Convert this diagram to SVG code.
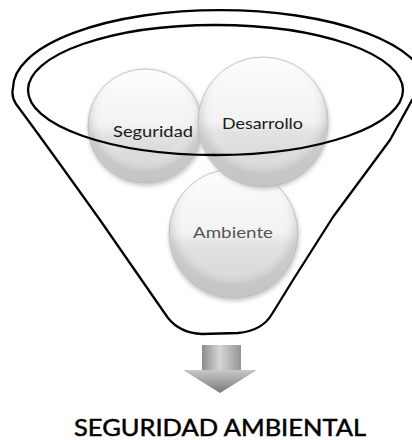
<svg xmlns="http://www.w3.org/2000/svg" width="412" height="440" viewBox="0 0 412 440">
  <style>
    .ball { fill: url(#ballGrad); stroke: #c4c4c4; stroke-width: 1; }
    .gloss { fill: url(#glossGrad); }
    .shadow { fill: #9a9a9a; opacity: 0.55; filter: url(#blur); }
    .lbl { font-family: Lato, "Open Sans", "Liberation Sans", sans-serif; font-size: 16px; text-anchor: middle; }
    .line { fill: none; stroke: #000; stroke-width: 2.3; stroke-linejoin: round; }
    .title { font-family: Lato, "Open Sans", "Liberation Sans", sans-serif; font-size: 24px; fill: #000; stroke: #000; stroke-width: 0.5; }
  </style>
  <defs>
    <linearGradient id="ballGrad" x1="0" y1="0" x2="0" y2="1">
      <stop offset="0" stop-color="#fdfdfd"/>
      <stop offset="0.5" stop-color="#f2f2f2"/>
      <stop offset="0.58" stop-color="#e2e2e2"/>
      <stop offset="1" stop-color="#d0d0d0"/>
    </linearGradient>
    <radialGradient id="glossGrad" cx="0.5" cy="0.4" r="0.5">
      <stop offset="0.75" stop-color="#ffffff" stop-opacity="0"/>
      <stop offset="1" stop-color="#b8b8b8" stop-opacity="0.5"/>
    </radialGradient>
    <linearGradient id="shaftGrad" x1="0" y1="0" x2="1" y2="0">
      <stop offset="0" stop-color="#8c8c8c"/>
      <stop offset="0.45" stop-color="#d6d6d6"/>
      <stop offset="1" stop-color="#959595"/>
    </linearGradient>
    <linearGradient id="headGrad" x1="0" y1="0" x2="0" y2="1">
      <stop offset="0" stop-color="#c8c8c8"/>
      <stop offset="1" stop-color="#7a7a7a"/>
    </linearGradient>
    <filter id="blur" x="-20%" y="-20%" width="140%" height="140%">
      <feGaussianBlur stdDeviation="2"/>
    </filter>
  </defs>

  <g id="node-ambiente">
    <circle class="shadow" cx="234" cy="236" r="65"/>
    <circle class="ball" cx="233.5" cy="233.5" r="64.5"/>
    <circle class="gloss" cx="233.5" cy="233.5" r="64.5"/>
    <text class="lbl" x="233" y="238" fill="#555" textLength="80" lengthAdjust="spacingAndGlyphs">Ambiente</text>
  </g>

  <g id="node-seguridad">
    <circle class="shadow" cx="146" cy="128" r="58"/>
    <circle class="ball" cx="145" cy="126" r="57"/>
    <circle class="gloss" cx="145" cy="126" r="57"/>
    <text class="lbl" x="153" y="137" fill="#1a1a1a" textLength="80" lengthAdjust="spacingAndGlyphs">Seguridad</text>
  </g>

  <g id="node-desarrollo">
    <circle class="shadow" cx="264" cy="124" r="65"/>
    <circle class="ball" cx="263" cy="122" r="65"/>
    <circle class="gloss" cx="263" cy="122" r="65"/>
    <text class="lbl" x="262.5" y="129" fill="#1a1a1a" textLength="81" lengthAdjust="spacingAndGlyphs">Desarrollo</text>
  </g>

  <g id="connectors">
    <path class="line" d="M 13,88 A 207 78 0 0 1 427,88 L 412,100 L 390,140 L 333,217 L 293,280 L 272,314 Q 262,331 238,333 L 202,334 Q 180,333 168,318 L 100,220 Q 40,136 16,104 Q 11,96 13,88 Z"/>
    <ellipse class="line" cx="215.5" cy="90" rx="187.5" ry="65"/>
  </g>

  <g id="node-arrow">
    <rect x="202" y="345" width="39" height="26" fill="url(#shaftGrad)"/>
    <polygon points="183,370 257,370 220,393" fill="url(#headGrad)"/>
  </g>

  <g id="node-title">
    <text class="title" x="74" y="436" textLength="292" lengthAdjust="spacingAndGlyphs">SEGURIDAD AMBIENTAL</text>
  </g>
</svg>
